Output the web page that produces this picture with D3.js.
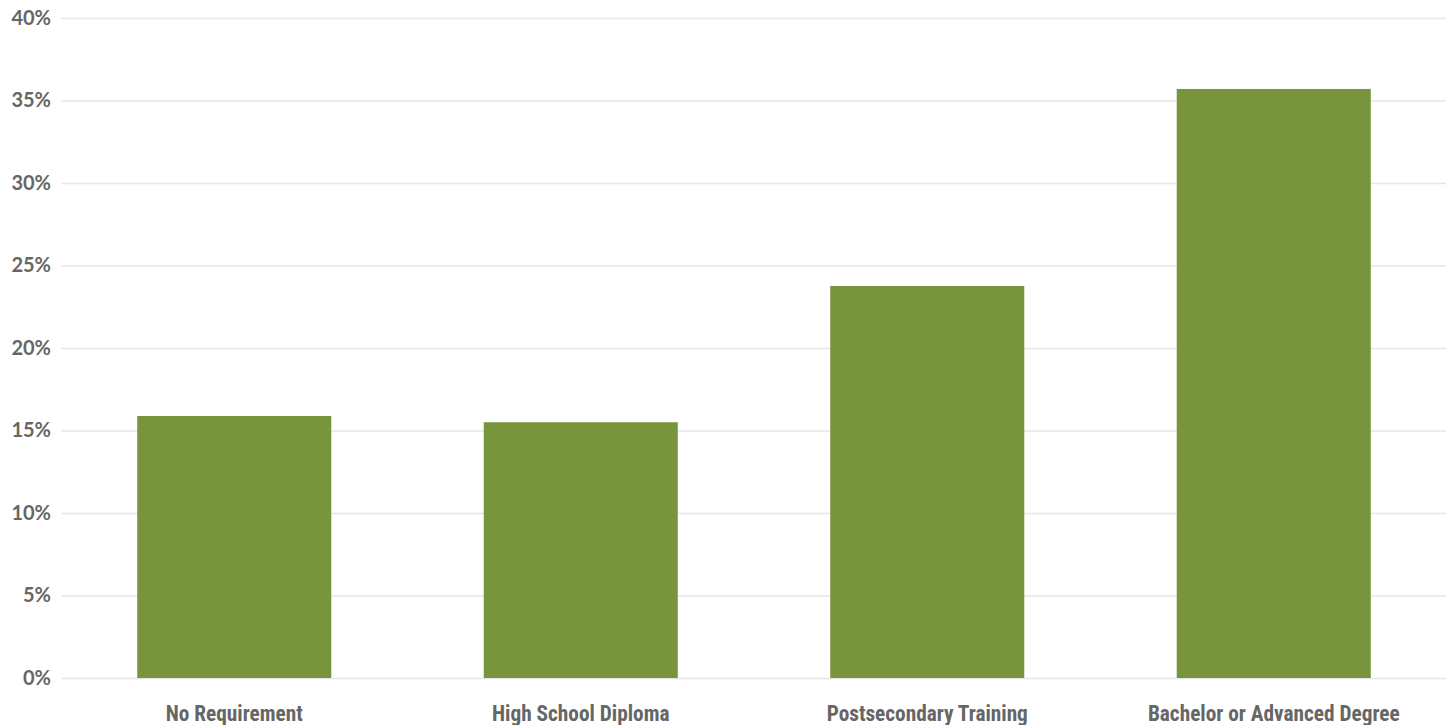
<!DOCTYPE html>
<html><head><meta charset="utf-8">
<script src="https://cdn.jsdelivr.net/npm/d3@7"></script>
<style>body{margin:0;background:#fff;} svg{display:block;}</style>
</head><body>
<script>
const categories = ["No Requirement","High School Diploma","Postsecondary Training","Bachelor or Advanced Degree"];
const values = [0.1588, 0.155, 0.2376, 0.357];
const yTicks = [0,0.05,0.10,0.15,0.20,0.25,0.30,0.35,0.40];

(function(){
const W=1451,H=725, mLeft=61, mRight=1446, mTop=18, mBottom=678;
const svg=d3.select("body").append("svg").attr("width",W).attr("height",H);
const x=d3.scaleBand().domain(categories).range([mLeft,mRight+1]).paddingInner(0.44).paddingOuter(0.22);
const y=d3.scaleLinear().domain([0,0.4]).range([mBottom,mTop]);

const ya=svg.append("g").attr("transform",`translate(${mLeft},0)`)
  .call(d3.axisLeft(y).tickValues(yTicks).tickFormat(d3.format(".0%")).tickSize(-(mRight-mLeft)).tickPadding(10));
ya.select(".domain").remove();
ya.selectAll(".tick line").attr("stroke","#e6e6e6").attr("stroke-width",1.3);
ya.selectAll(".tick text").attr("fill","#666").attr("font-family","Lato, sans-serif").attr("font-weight","bold").attr("font-size","20px").attr("dy","0.32em");

svg.append("g").selectAll("rect").data(values).join("rect")
  .attr("x",(d,i)=>x(categories[i])).attr("width",x.bandwidth())
  .attr("y",d=>y(d)).attr("height",d=>y(0)-y(d)).attr("fill","#78943c");

const xa=svg.append("g").attr("transform",`translate(0,${mBottom})`)
  .call(d3.axisBottom(x).tickSize(0).tickPadding(28));
xa.select(".domain").remove();
xa.selectAll(".tick text").attr("fill","#666").attr("font-family","'Roboto Condensed', Roboto, sans-serif").attr("font-weight","bold").attr("font-size","21.3px");
})();
</script>
</body></html>
